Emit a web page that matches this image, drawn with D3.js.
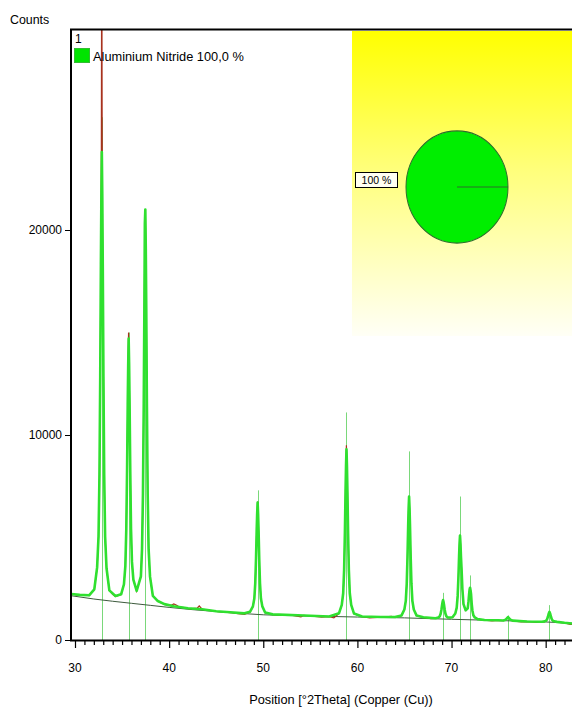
<!DOCTYPE html>
<html>
<head>
<meta charset="utf-8">
<script src="https://cdn.jsdelivr.net/npm/d3@7"></script>
<style>
	body { margin: 0; background: #fff; }
	svg { display: block; font-family: 'Liberation Sans', Arial, sans-serif; }
</style>
</head>
<body>
<div class="view-container"></div>
<script>
'use strict';

var WIDTH = 572;
var HEIGHT = 708;
var PROFILE_GREEN = '#2fe02f';
var STICK_GREEN = '#7ad87a';
var MEASURED_RED = '#a8321e';
var BACKGROUND_GRAY = '#3d5a3d';

// calculated profile [2Theta, counts]
var profile = [
	[29.6, 2240], [30.5, 2200], [31.5, 2180], [32.05, 2470], [32.35, 3540], [32.5, 5060],
	[32.6, 8100], [32.68, 12900], [32.75, 18340], [32.8, 21610], [32.85, 23800], [32.9, 21600],
	[32.95, 18330], [33.02, 12880], [33.1, 8080], [33.2, 5030], [33.35, 3500], [33.65, 2420],
	[34.3, 2150], [34.9, 2230], [35.2, 2720], [35.35, 3620], [35.45, 5420], [35.53, 8250],
	[35.6, 11480], [35.65, 13410], [35.7, 14700], [35.75, 13410], [35.8, 11480], [35.87, 8250],
	[35.95, 5420], [36.05, 3810], [36.2, 2950], [36.55, 2400], [37.0, 3100], [37.12, 4430],
	[37.22, 7130], [37.3, 11370], [37.37, 16200], [37.42, 20300], [37.47, 21000], [37.52, 19090],
	[37.57, 16200], [37.64, 11370], [37.72, 7130], [37.82, 4430], [37.97, 3090], [38.27, 2150],
	[38.8, 1900], [39.5, 1750], [40.5, 1650], [42, 1550], [43.5, 1500], [45, 1400],
	[46.5, 1350], [48, 1300], [48.6, 1380], [48.9, 1640], [49.05, 2020], [49.15, 2780],
	[49.23, 3975], [49.3, 5340], [49.35, 6150], [49.4, 6700], [49.45, 6150], [49.5, 5340],
	[49.57, 3975], [49.65, 2780], [49.75, 2020], [49.9, 1640], [50.2, 1340], [51, 1250],
	[53, 1220], [55, 1180], [57, 1150], [58.04, 1300], [58.34, 1710], [58.49, 2280],
	[58.59, 3420], [58.67, 5220], [58.74, 7260], [58.79, 8480], [58.84, 9300], [58.89, 8480],
	[58.94, 7260], [59.01, 5220], [59.09, 3420], [59.19, 2280], [59.34, 1710], [59.64, 1290],
	[60.5, 1150], [62.5, 1120], [64.0, 1120], [64.69, 1200], [64.99, 1490], [65.14, 1910],
	[65.24, 2735], [65.32, 4040], [65.39, 5520], [65.44, 6410], [65.49, 7000], [65.54, 6410],
	[65.59, 5520], [65.66, 4040], [65.74, 2735], [65.84, 1910], [65.99, 1490], [66.29, 1190],
	[67, 1110], [68.3, 1060], [68.6, 1100], [68.75, 1160], [68.85, 1290], [68.93, 1490],
	[69.0, 1720], [69.05, 1860], [69.1, 1950], [69.15, 1860], [69.2, 1720], [69.27, 1490],
	[69.35, 1290], [69.45, 1160], [69.6, 1100], [69.9, 1100], [70.1, 1110], [70.4, 1290],
	[70.55, 1580], [70.65, 2150], [70.73, 3050], [70.8, 4075], [70.85, 4690], [70.9, 5100],
	[70.95, 4690], [71.0, 4075], [71.07, 3400], [71.15, 2500], [71.27, 1750], [71.5, 1450],
	[71.72, 1550], [71.8, 1870], [71.87, 2250], [71.92, 2470], [71.97, 2550], [72.02, 2420],
	[72.07, 2250], [72.14, 1770], [72.22, 1430], [72.32, 1210], [72.47, 1100], [72.77, 1020],
	[73.5, 975], [75.0, 960], [75.5, 950], [75.75, 990], [75.9, 1060], [76.0, 1120],
	[76.1, 1060], [76.25, 990], [76.5, 945], [78.0, 905], [79.6, 890], [79.9, 910],
	[80.05, 945], [80.15, 1015], [80.23, 1120], [80.3, 1245], [80.35, 1320], [80.4, 1370],
	[80.45, 1320], [80.5, 1245], [80.57, 1120], [80.65, 1015], [80.75, 945], [80.9, 910],
	[81.2, 885], [82, 840], [83.2, 790]
];

// measured pattern, mostly hidden under the profile
var measured = [
	[29.6, 2260], [30.2, 2190], [30.9, 2210], [31.5, 2170], [32.05, 2460], [32.35, 3530],
	[32.5, 5050], [32.6, 8090], [32.68, 12890], [32.75, 18330], [32.8, 24000], [32.84, 36000],
	[32.88, 26000], [32.92, 20000], [32.95, 18320], [33.02, 12870], [33.1, 8070], [33.2, 5020],
	[33.35, 3490], [33.65, 2410], [34.0, 2230], [34.3, 2120], [34.9, 2220], [35.2, 2710],
	[35.35, 3610], [35.45, 5410], [35.53, 8240], [35.6, 11470], [35.65, 13900], [35.69, 15000],
	[35.72, 14200], [35.75, 13400], [35.8, 11470], [35.87, 8240], [35.95, 5410], [36.05, 3800],
	[36.2, 2940], [36.55, 2380], [37.0, 3090], [37.12, 4420], [37.22, 7120], [37.3, 11360],
	[37.37, 16190], [37.42, 20290], [37.47, 20990], [37.52, 19080], [37.57, 16190], [37.64, 11360],
	[37.72, 7120], [37.82, 4420], [37.97, 3080], [38.27, 2140], [38.8, 1890], [39.5, 1740],
	[40.2, 1690], [40.5, 1760], [40.8, 1700], [41.1, 1600], [41.6, 1580], [42.2, 1520],
	[43.0, 1560], [43.2, 1660], [43.5, 1500], [44.2, 1450], [45, 1390], [46.5, 1340],
	[47.3, 1280], [48, 1250], [48.6, 1370], [48.9, 1630], [49.05, 2010], [49.15, 2770],
	[49.23, 3965], [49.3, 5330], [49.35, 6140], [49.4, 6750], [49.45, 6140], [49.5, 5330],
	[49.57, 3965], [49.65, 2770], [49.75, 2010], [49.9, 1630], [50.2, 1330], [51, 1240],
	[52.4, 1200], [53, 1210], [54.0, 1130], [54.3, 1200], [55, 1170], [56.2, 1120],
	[57, 1140], [57.5, 1080], [58.04, 1290], [58.34, 1700], [58.49, 2270], [58.59, 3410],
	[58.67, 5210], [58.74, 7250], [58.79, 8470], [58.83, 9500], [58.89, 8470], [58.94, 7250],
	[59.01, 5210], [59.09, 3410], [59.19, 2270], [59.34, 1700], [59.64, 1280], [60.5, 1140],
	[61.3, 1080], [62.5, 1110], [63.6, 1150], [64.0, 1110], [64.69, 1190], [64.99, 1480],
	[65.14, 1900], [65.24, 2725], [65.32, 4030], [65.39, 5510], [65.44, 6400], [65.49, 6990],
	[65.54, 6400], [65.59, 5510], [65.66, 4030], [65.74, 2725], [65.84, 1900], [65.99, 1480],
	[66.29, 1180], [67, 1100], [67.8, 1040], [68.3, 1050], [68.6, 1090], [68.75, 1150],
	[68.85, 1280], [68.93, 1480], [69.0, 1710], [69.05, 1850], [69.1, 1940], [69.15, 1850],
	[69.2, 1710], [69.27, 1480], [69.35, 1280], [69.45, 1150], [69.6, 1090], [69.9, 1090],
	[70.1, 1100], [70.4, 1280], [70.55, 1570], [70.65, 2140], [70.73, 3040], [70.8, 4065],
	[70.85, 4680], [70.9, 5090], [70.95, 4680], [71.0, 4065], [71.07, 3390], [71.15, 2490],
	[71.27, 1740], [71.5, 1440], [71.72, 1540], [71.8, 1860], [71.87, 2240], [71.92, 2460],
	[71.97, 2540], [72.02, 2410], [72.07, 2240], [72.14, 1760], [72.22, 1420], [72.32, 1200],
	[72.47, 1090], [72.77, 1010], [73.5, 965], [74.3, 930], [75.0, 950], [75.5, 940],
	[75.75, 980], [75.9, 1050], [76.0, 1110], [76.1, 1050], [76.25, 980], [76.5, 935],
	[77.4, 880], [78.0, 895], [79.0, 860], [79.6, 880], [79.9, 900], [80.05, 935],
	[80.15, 1005], [80.23, 1110], [80.3, 1235], [80.35, 1310], [80.4, 1360], [80.45, 1310],
	[80.5, 1235], [80.57, 1110], [80.65, 1005], [80.75, 935], [80.9, 900], [81.2, 875],
	[82, 830], [82.6, 760], [83.2, 780]
];

// fitted background
var background = [
	[29.6, 2160], [32, 2000], [34, 1890], [36, 1790], [38, 1690], [40, 1590], [42.5, 1480],
	[45, 1390], [47.5, 1300], [50, 1230], [55, 1170], [60, 1120], [65, 1080], [70, 1010],
	[75, 950], [80, 880], [83.2, 810]
];

// reference peak positions and heights
var stickPositions = [32.85, 35.7, 37.47, 49.4, 58.84, 65.49, 69.1, 70.9, 71.97, 76.0, 80.4];
var stickHeights = [25500, 15000, 21000, 7300, 11100, 9200, 2300, 7000, 3150, 1200, 1700];

var xTicks = [30, 40, 50, 60, 70, 80];
var yTicks = [0, 10000, 20000];
var phaseName = 'Aluminium Nitride 100,0 %';
var phaseShare = [100];

var svg = d3.select('.view-container').append('svg')
	.attr('width', WIDTH)
	.attr('height', HEIGHT);

var x = d3.scaleLinear().domain([29.575, 83.2]).range([71, 575.8]);
var y = d3.scaleLinear().domain([0, 29805]).range([640, 29]);

var defs = svg.append('defs');
var grad = defs.append('linearGradient')
	.attr('id', 'yellowFade')
	.attr('x1', 0).attr('y1', 0).attr('x2', 0).attr('y2', 1);
grad.append('stop').attr('offset', '0%').attr('stop-color', '#ffff00');
grad.append('stop').attr('offset', '45%').attr('stop-color', '#ffff7a');
grad.append('stop').attr('offset', '100%').attr('stop-color', '#fffff6');

defs.append('clipPath').attr('id', 'plotClip')
	.append('rect')
	.attr('x', 71).attr('y', 30)
	.attr('width', WIDTH - 71).attr('height', 610);

// pie panel
svg.append('rect')
	.attr('x', 352).attr('y', 31)
	.attr('width', WIDTH - 352).attr('height', 305)
	.style('fill', 'url(#yellowFade)');

var pie = d3.pie().sort(null)(phaseShare);
var pieG = svg.append('g').attr('transform', 'translate(457,187) scale(1,1.1)');
pieG.selectAll('path.slice')
	.data(pie)
	.enter().append('path')
	.attr('class', 'slice')
	.attr('d', d3.arc().innerRadius(0).outerRadius(51))
	.style('fill', '#00ee00')
	.style('stroke', '#2c6e2c')
	.style('stroke-width', 1);
pieG.append('line')
	.attr('x1', 0).attr('y1', 0).attr('x2', 51).attr('y2', 0)
	.style('stroke', '#2c6e2c')
	.style('stroke-width', 1);

svg.append('rect')
	.attr('x', 355.5).attr('y', 172.5)
	.attr('width', 42).attr('height', 15)
	.style('fill', '#fffff2')
	.style('stroke', '#000');
svg.append('text')
	.attr('x', 376.5).attr('y', 184)
	.attr('text-anchor', 'middle')
	.style('font-size', '10.5px')
	.text(phaseShare[0] + ' %');

var plot = svg.append('g').attr('clip-path', 'url(#plotClip)');

var line = d3.line()
	.x(function(d) { return x(d[0]); })
	.y(function(d) { return y(d[1]); });

plot.selectAll('line.stick')
	.data(stickPositions)
	.enter().append('line')
	.attr('class', 'stick')
	.attr('x1', function(d) { return Math.round(x(d)) + 0.5; })
	.attr('x2', function(d) { return Math.round(x(d)) + 0.5; })
	.attr('y1', function(d, i) { return y(stickHeights[i]); })
	.attr('y2', y(0))
	.style('stroke', STICK_GREEN)
	.style('stroke-width', 1);

plot.append('path')
	.datum(background)
	.attr('d', line.curve(d3.curveMonotoneX))
	.style('fill', 'none')
	.style('stroke', BACKGROUND_GRAY)
	.style('stroke-width', 1);

line.curve(d3.curveLinear);

plot.append('path')
	.datum(measured)
	.attr('d', line)
	.style('fill', 'none')
	.style('stroke', MEASURED_RED)
	.style('stroke-width', 1.2);

plot.append('path')
	.datum(profile)
	.attr('d', line)
	.style('fill', 'none')
	.style('stroke', PROFILE_GREEN)
	.style('stroke-width', 2.6)
	.style('stroke-linejoin', 'round');

// frame and axes
svg.append('line')
	.attr('x1', 70).attr('x2', WIDTH).attr('y1', 29.5).attr('y2', 29.5)
	.style('stroke', '#000').style('stroke-width', 2);
svg.append('line')
	.attr('x1', 71).attr('x2', 71).attr('y1', 29).attr('y2', 641)
	.style('stroke', '#000').style('stroke-width', 2);

var xAxis = svg.append('g')
	.attr('transform', 'translate(0,640)')
	.call(d3.axisBottom(x).tickValues(d3.range(30, 84, 1)).tickSize(5).tickFormat(''));
xAxis.select('.domain').remove();
xAxis.selectAll('.tick').filter(function(d) { return xTicks.indexOf(d) >= 0; })
	.select('line').attr('y2', 8);
xAxis.selectAll('.tick line').style('stroke-width', 1.2);

svg.append('line')
	.attr('x1', 70).attr('x2', WIDTH).attr('y1', 640.5).attr('y2', 640.5)
	.style('stroke', '#000').style('stroke-width', 2);

svg.selectAll('text.xlab')
	.data(xTicks)
	.enter().append('text')
	.attr('class', 'xlab')
	.attr('x', function(d) { return x(d); })
	.attr('y', 672)
	.attr('text-anchor', 'middle')
	.style('font-size', '12px')
	.text(function(d) { return d; });

var yAxis = svg.append('g')
	.attr('transform', 'translate(71,0)')
	.call(d3.axisLeft(y).tickValues(yTicks).tickSize(6).tickPadding(3).tickFormat(d3.format('d')));
yAxis.select('.domain').remove();
yAxis.selectAll('text').style('font-size', '12px').style('font-family', 'Liberation Sans, Arial, sans-serif');

svg.append('text')
	.attr('x', 10).attr('y', 24)
	.style('font-size', '12.4px')
	.text('Counts');
svg.append('text')
	.attr('x', 341).attr('y', 704)
	.attr('text-anchor', 'middle')
	.style('font-size', '12.8px')
	.text('Position [°2Theta] (Copper (Cu))');

// legend
svg.append('text')
	.attr('x', 75).attr('y', 43)
	.style('font-size', '12px')
	.text('1');
svg.append('rect')
	.attr('x', 74.5).attr('y', 48.5)
	.attr('width', 15).attr('height', 14)
	.style('fill', '#00e400')
	.style('stroke', '#33bb33');
svg.append('text')
	.attr('x', 93).attr('y', 61)
	.style('font-size', '12.8px')
	.text(phaseName);
</script>
</body>
</html>
